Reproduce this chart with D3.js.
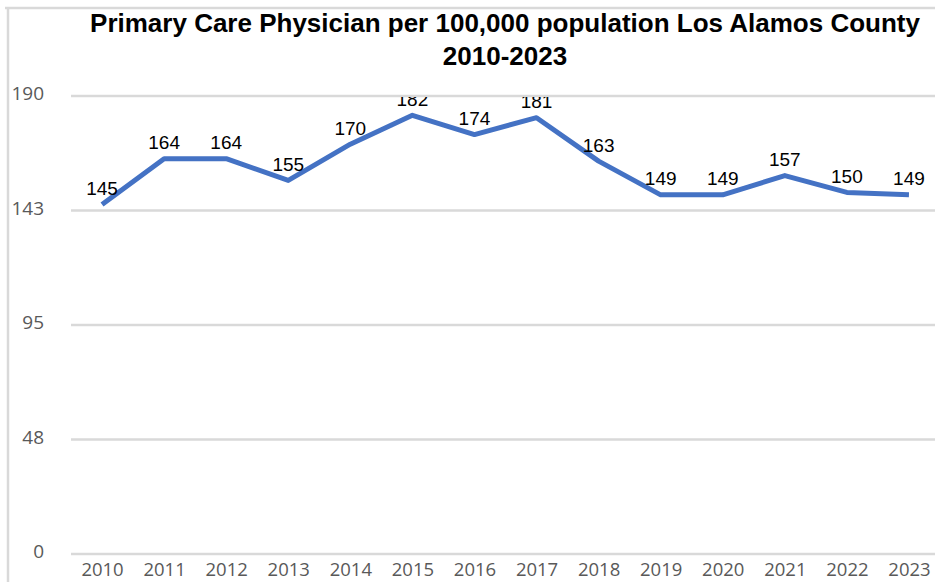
<!DOCTYPE html>
<html>
<head>
<meta charset="utf-8">
<script src="https://cdn.jsdelivr.net/npm/d3@7"></script>
<style>
  body { margin: 0; background: #fff; }
  svg { display: block; }
</style>
</head>
<body>
<svg id="chart"></svg>
<script>
// chart data
var years = ["2010", "2011", "2012", "2013", "2014", "2015", "2016", "2017", "2018", "2019", "2020", "2021", "2022", "2023"];
var physicians = [145, 164, 164, 155, 170, 182, 174, 181, 163, 149, 149, 157, 150, 149];
var yTicks = [0, 47.5, 95, 142.5, 190];
var yTickLabels = ["0", "48", "95", "143", "190"];
var titleLines = ["Primary Care Physician per 100,000 population Los Alamos County", "2010-2023"];

var svgWidth = 935;
var svgHeight = 582;
var plot = {left: 71, right: 940, top: 96, bottom: 554};

var svg = d3.select('#chart')
    .attr('width', svgWidth)
    .attr('height', svgHeight);

// outer frame (only top and left edges show)
svg.append('line')
    .attr('x1', 5).attr('x2', svgWidth).attr('y1', 8).attr('y2', 8)
    .attr('stroke', '#d9d9d9').attr('stroke-width', 2.5);
svg.append('line')
    .attr('x1', 8).attr('x2', 8).attr('y1', 8).attr('y2', svgHeight)
    .attr('stroke', '#d9d9d9').attr('stroke-width', 2.5);

// title
var title = svg.append('g')
    .attr('font-family', 'Liberation Sans, Arial, sans-serif')
    .attr('font-weight', 'bold')
    .attr('font-size', 26)
    .attr('fill', '#000')
    .attr('text-anchor', 'middle');

title.selectAll('text')
    .data(titleLines)
    .enter().append('text')
    .attr('x', 505)
    .attr('y', function(d, i) { return 32 + i * 33; })
    .text(function(d) { return d; })
    .each(function(d, i) {
        // first line is a bit condensed in the original
        if (i == 0 && this.getComputedTextLength() > 838) {
            d3.select(this).attr('textLength', 838).attr('lengthAdjust', 'spacingAndGlyphs');
        }
    });

// scales
const xScale = d3.scalePoint()
    .domain(years)
    .range([plot.left, plot.right])
    .padding(0.5);

const yScale = d3.scaleLinear()
    .domain([0, 190])
    .range([plot.bottom, plot.top]);

// gridlines
svg.append('g')
    .selectAll('line')
    .data(yTicks)
    .enter().append('line')
    .attr('x1', plot.left)
    .attr('x2', svgWidth)
    .attr('y1', function(d) { return yScale(d); })
    .attr('y2', function(d) { return yScale(d); })
    .attr('stroke', '#d9d9d9')
    .attr('stroke-width', 2.5);

// y axis labels
var yAxis = svg.append('g')
    .attr('transform', 'translate(44, 0)')
    .call(d3.axisLeft(yScale).tickValues(yTicks).tickSize(0).tickPadding(0)
        .tickFormat(function(d, i) { return yTickLabels[i]; }));
yAxis.select('.domain').remove();
yAxis.selectAll('text')
    .attr('font-family', 'Open Sans, sans-serif')
    .attr('font-size', 19)
    .attr('fill', '#595959')
    .attr('dy', '0.2em');

// x axis labels
var xAxis = svg.append('g')
    .attr('transform', `translate(0, ${plot.bottom})`)
    .call(d3.axisBottom(xScale).tickSize(0).tickPadding(0));
xAxis.select('.domain').remove();
xAxis.selectAll('text')
    .attr('font-family', 'Open Sans, sans-serif')
    .attr('font-size', 18.5)
    .attr('fill', '#595959')
    .attr('dy', null)
    .attr('y', 22);

// clip for data labels (they get cut at the top of the plot)
svg.append('clipPath')
    .attr('id', 'plotClip')
    .append('rect')
    .attr('x', 0)
    .attr('y', plot.top + 1)
    .attr('width', svgWidth)
    .attr('height', plot.bottom - plot.top);

// line
var valueline = d3.line()
    .x(function(d, i) { return xScale(years[i]); })
    .y(function(d) { return yScale(d); });

svg.append('path')
    .datum(physicians)
    .attr('d', valueline)
    .attr('fill', 'none')
    .attr('stroke', '#4472c4')
    .attr('stroke-width', 5)
    .attr('stroke-linejoin', 'round');

// data labels
svg.append('g')
    .attr('clip-path', 'url(#plotClip)')
    .selectAll('text')
    .data(physicians)
    .enter().append('text')
    .attr('x', function(d, i) { return xScale(years[i]); })
    .attr('y', function(d) { return yScale(d) - 9.5; })
    .attr('text-anchor', 'middle')
    .attr('font-family', 'Liberation Sans, Arial, sans-serif')
    .attr('font-size', 19)
    .attr('fill', '#000')
    .text(function(d) { return d; });
</script>
</body>
</html>
